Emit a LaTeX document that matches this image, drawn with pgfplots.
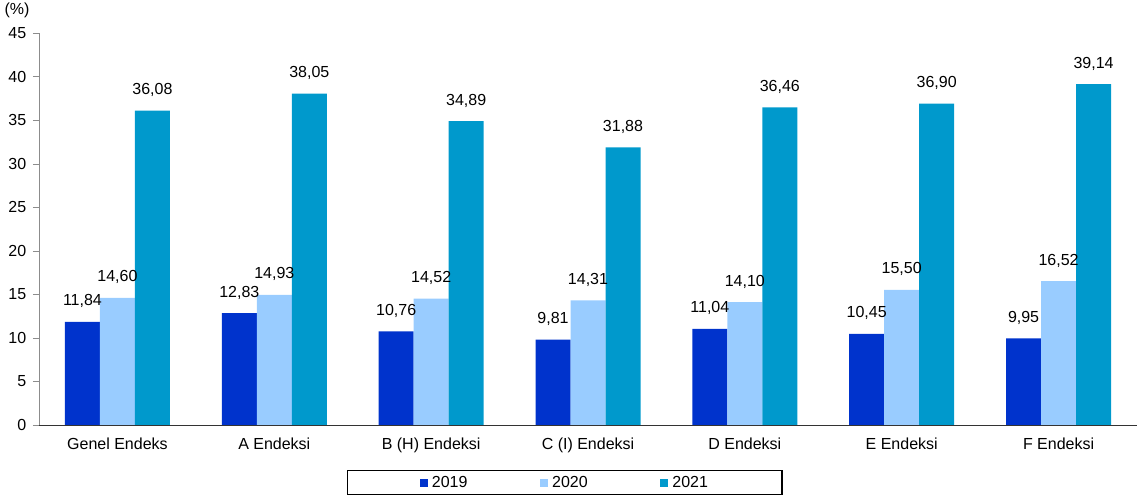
\documentclass[border=0pt]{standalone}
\usepackage{fontspec}
\setmainfont{Liberation Sans}
\usepackage{pgfplots}
\pgfplotsset{compat=1.18}
\definecolor{cA}{HTML}{0033CC}
\definecolor{cB}{HTML}{99CCFF}
\definecolor{cC}{HTML}{0099CC}
\begin{document}
\begin{tikzpicture}[font=\fontsize{12}{14}\selectfont]
\begin{axis}[
  name=ax,
  scale only axis,
  width=823.5pt, height=294pt,
  ybar=0pt, bar width=26.25pt,
  xmin=-0.5, xmax=6.5,
  ymin=0, ymax=45,
  ytick={0,5,...,45},
  xtick={0,...,6},
  xticklabels={Genel Endeks, A Endeksi, B (H) Endeksi, C (I) Endeksi, D Endeksi, E Endeksi, F Endeksi},
  x tick style={draw=none},
  extra x ticks={-0.5,0.5,...,6.5},
  extra x tick labels={},
  extra x tick style={major tick length=4pt, tick align=outside, tick style={draw=black!80}},
  axis x line=bottom, axis y line=left,
  x axis line style={-, black!80},
  y axis line style={-, black!45},
  y tick style={black!45},
  tick align=outside, major tick length=4.5pt,
  xticklabel style={yshift=-2pt},
  yticklabel style={xshift=-1.5pt},
  /pgf/number format/assume math mode=true,
  /pgf/number format/use comma,
  nodes near coords,
  nodes near coords style={/pgf/number format/.cd, fixed, fixed zerofill, precision=2, use comma, assume math mode=true, /tikz/.cd, anchor=base, yshift=12pt, inner sep=0pt, text=black},
  legend columns=3,
  legend style={at={(0.479,-0.1467)}, anchor=center, draw=black, line width=0.8pt, inner xsep=54pt, inner ysep=2.5pt, /tikz/every odd column/.append style={column sep=1.5pt}, /tikz/every even column/.append style={column sep=53pt}, nodes={inner sep=1.5pt, line width=0.4pt}},
  legend image code/.code={\fill[#1, draw=none] (0pt,-3pt) rectangle (6pt,3pt);},
]
\addplot[fill=cA, draw=none] coordinates {(0,11.84) (1,12.83) (2,10.76) (3,9.81) (4,11.04) (5,10.45) (6,9.95)};
\addplot[fill=cB, draw=none] coordinates {(0,14.60) (1,14.93) (2,14.52) (3,14.31) (4,14.10) (5,15.50) (6,16.52)};
\addplot[fill=cC, draw=none] coordinates {(0,36.08) (1,38.05) (2,34.89) (3,31.88) (4,36.46) (5,36.90) (6,39.14)};
\legend{2019,2020,2021}
\end{axis}
\node at ([shift={(-16.5pt,311.25pt)}]ax.south west) {(\%)};
\pgfresetboundingbox
\path ([shift={(-29.25pt,-56.25pt)}]ax.south west) rectangle ++(857.25pt,375pt);
\end{tikzpicture}
\end{document}
